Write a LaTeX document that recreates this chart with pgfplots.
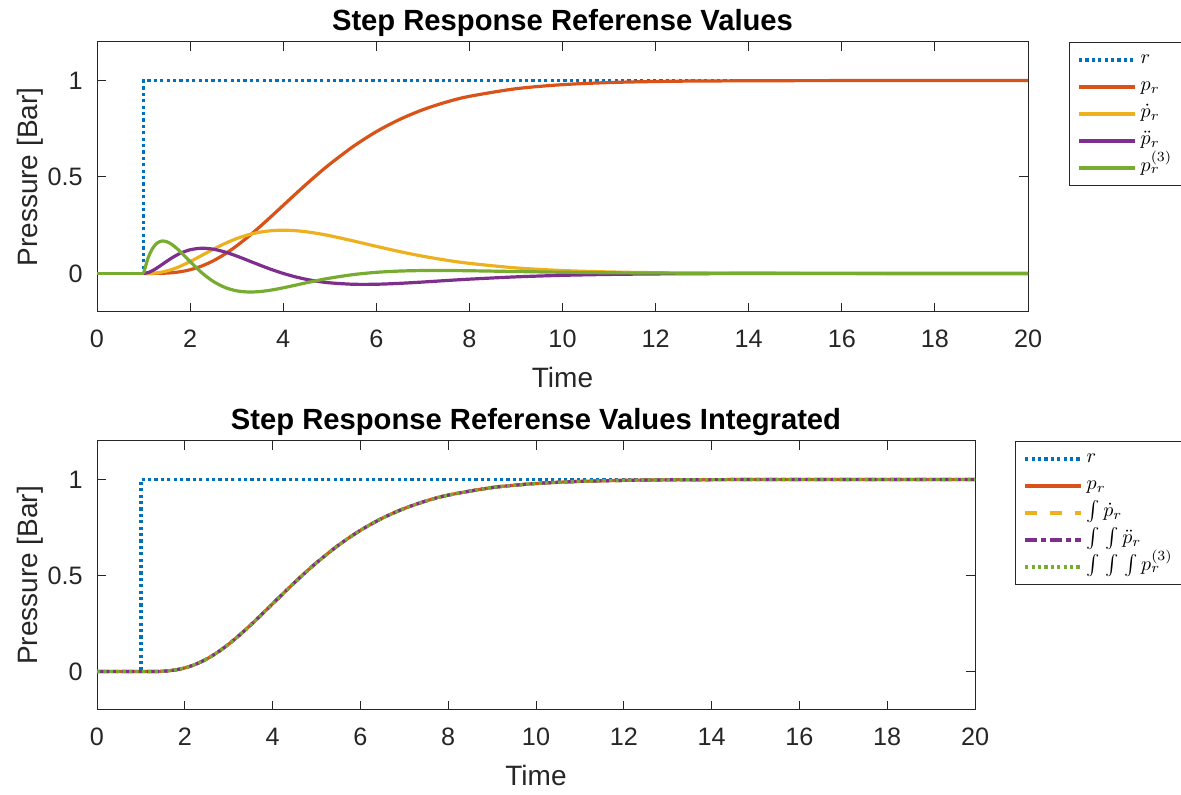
\documentclass[border=0pt]{standalone}
\usepackage{fontspec}
\setmainfont{Liberation Sans}
\usepackage{pgfplots}
\pgfplotsset{compat=1.18}
\usepackage{pgfplotstable}

\definecolor{mblue}{rgb}{0,0.447,0.741}
\definecolor{morange}{rgb}{0.850,0.325,0.098}
\definecolor{myellow}{rgb}{0.929,0.694,0.125}
\definecolor{mpurple}{rgb}{0.494,0.184,0.556}
\definecolor{mgreen}{rgb}{0.466,0.674,0.188}
\definecolor{axgray}{rgb}{0.15,0.15,0.15}

% reference trajectory p_r and its first three derivatives (step at t = 1)
\pgfplotstableread{
t     p         pd        pdd        p3
0     0         0         0          0
1.0   0         0         0          0
1.1   0.000004  0.000151  0.004373   0.081590
1.2   0.000057  0.001092  0.015283   0.132090
1.3   0.000266  0.003334  0.030003   0.158900
1.4   0.000776  0.007150  0.046476   0.168030
1.5   0.001752  0.012636  0.063180   0.164270
1.6   0.003357  0.019757  0.079029   0.151470
1.7   0.005754  0.028388  0.093275   0.132670
1.8   0.009080  0.038343  0.105442   0.110240
2.0   0.018988  0.061313  0.122626   0.061310
2.25  0.038269  0.093263  0.130569   0.003731
2.5   0.065642  0.125511  0.125511  -0.041837
2.75  0.100810  0.155220  0.110872  -0.072858
3.0   0.142877  0.180447  0.090223  -0.090223
3.25  0.190569  0.200094  0.066698  -0.096341
3.5   0.242424  0.213763  0.042753  -0.094056
3.75  0.296958  0.221584  0.020144  -0.086070
4.0   0.352768  0.224042  0         -0.074681
4.25  0.408596  0.221840 -0.017065  -0.061695
4.5   0.463374  0.215783 -0.030826  -0.048441
4.75  0.516227  0.206701 -0.041340  -0.035828
5.0   0.566530  0.195371 -0.048843  -0.024421
5.5   0.657704  0.168718 -0.056239  -0.006249
6.0   0.734974  0.140375 -0.056150   0.005615
6.5   0.798290  0.113329 -0.051513   0.012176
7.0   0.848796  0.089244 -0.044622   0.014874
7.5   0.888183  0.068794 -0.037043   0.015061
8.0   0.918235  0.052136 -0.029792   0.013832
9.0   0.957620  0.028587 -0.017867   0.009827
10    0.978774  0.014945 -0.009963   0.006089
11    0.989664  0.007567 -0.005297   0.003481
12    0.995085  0.003705 -0.002694   0.001868
13    0.997708  0.001769 -0.001327   0.000959
15    0.999526  0.000380 -0.000299   0.000229
17    0.999907  0.000077 -0.000062   0.000050
20    1.000000  0         0          0
}\resp

\pgfplotsset{
  stepaxis/.style={
    scale only axis,
    xmin=0, xmax=20, ymin=-0.2, ymax=1.2,
    xtick={0,2,...,20}, ytick={0,0.5,1},
    axis line style={draw=axgray, line width=0.5pt},
    every tick/.style={draw=axgray, line width=0.5pt},
    major tick length=4.6pt,
    tick align=inside,
    /pgf/number format/assume math mode=true,
    ticklabel style={font=\fontsize{12.6}{14}\selectfont, text=axgray},
    xticklabel style={anchor=base, inner sep=0pt, yshift=-18pt},
    yticklabel style={anchor=east, inner sep=0pt, xshift=-7pt},
    xlabel={Time},
    ylabel={Pressure [Bar]},
    label style={font=\fontsize{14}{16}\selectfont, text=axgray},
    xlabel style={at={(axis description cs:0.5,0)}, anchor=base, inner sep=0pt, yshift=-38pt},
    ylabel style={at={([xshift=-30pt]axis description cs:0,0.5)}, anchor=base, inner sep=0pt},
    % the default title style already lifts the title by 6pt
    title style={at={(axis description cs:0.5,1)}, anchor=base, inner sep=0pt, yshift=-0.5pt,
      font=\bfseries\fontsize{14.6}{16}\selectfont},
    legend cell align=left,
    legend image code/.code={\draw[#1, /tikz/line width=1.6pt] (0pt,0pt) -- (28pt,0pt);},
    legend style={anchor=north west, draw=axgray, line width=0.5pt,
      font=\fontsize{10}{12}\selectfont, row sep=1pt,
      inner xsep=4pt, inner ysep=2.5pt,
      nodes={text height=6.5pt, text depth=3pt, inner ysep=1.5pt}},
    every axis plot/.append style={line width=1.6pt},
  },
  dotline/.style={dash pattern=on 1.6pt off 1.6pt},
  dashline/.style={dash pattern=on 6pt off 6.5pt},
  dashdotline/.style={dash pattern=on 6pt off 2pt on 2.5pt off 2pt},
}

\begin{document}
\begin{tikzpicture}
\path[use as bounding box] (0,0) rectangle (590.5pt,397.5pt);

% upper panel: reference and its derivatives
\begin{axis}[stepaxis,
  at={(48.5pt,241.5pt)}, anchor=south west,
  width=465.5pt, height=135pt,
  title={Step Response Referense Values},
  legend style={at={(1.044,1)}},
]
\addplot[mblue, dotline] coordinates {(0,0) (1,0) (1,1) (20,1)};
\addlegendentry{$r$}
\addplot[morange, smooth, restrict x to domain=1:20] table[x=t, y=p] {\resp};
\addlegendentry{$p_r$}
\addplot[myellow, smooth, restrict x to domain=1:20] table[x=t, y=pd] {\resp};
\addlegendentry{$\dot{p}_r$}
\addplot[mpurple, smooth, restrict x to domain=1:20] table[x=t, y=pdd] {\resp};
\addlegendentry{$\ddot{p}_r$}
\addplot[mgreen, smooth, restrict x to domain=1:20] table[x=t, y=p3] {\resp};
\addlegendentry{$p_r^{(3)}$}
\addplot[mgreen, forget plot] coordinates {(0,0) (1,0)};
\end{axis}

% lower panel: integrated derivatives
\begin{axis}[stepaxis,
  at={(48.5pt,42.5pt)}, anchor=south west,
  width=439pt, height=134.5pt,
  title={Step Response Referense Values Integrated},
  legend style={at={(1.0456,1)}},
]
\addplot[mblue, dotline] coordinates {(0,0) (1,0) (1,1) (20,1)};
\addlegendentry{$r$}
\addplot[morange, smooth] table[x=t, y=p] {\resp};
\addlegendentry{$p_r$}
\addplot[myellow, smooth, dashline] table[x=t, y=p] {\resp};
\addlegendentry{$\int\dot{p}_r$}
\addplot[mpurple, smooth, dashdotline] table[x=t, y=p] {\resp};
\addlegendentry{$\int\mkern2mu\int\ddot{p}_r$}
\addplot[mgreen, smooth, dotline] table[x=t, y=p] {\resp};
\addlegendentry{$\int\mkern2mu\int\mkern2mu\int p_r^{(3)}$}
\end{axis}
\end{tikzpicture}
\end{document}
